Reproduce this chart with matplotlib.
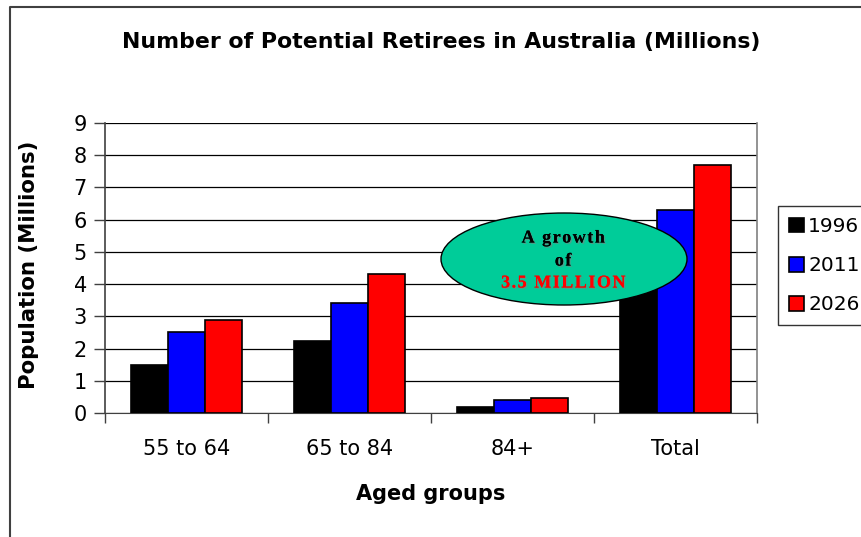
import matplotlib.pyplot as plt
import matplotlib.patheffects as pe
from matplotlib.patches import Ellipse
from matplotlib.lines import Line2D
import numpy as np

# Chart data (millions)
groups = ['55 to 64', '65 to 84', '84+', 'Total']
years = ['1996', '2011', '2026']
pop_1996 = [1.5, 2.24, 0.18, 3.92]
pop_2011 = [2.52, 3.42, 0.4, 6.3]
pop_2026 = [2.88, 4.32, 0.46, 7.7]
colors = ['#000000', '#0000ff', '#ff0000']

W, H = 861, 537
fig = plt.figure(figsize=(W / 100, H / 100), dpi=100)

# plot area in pixels: x 105..757, y 123..413
ax = fig.add_axes([105 / W, 1 - 413 / H, 652 / W, 290 / H])

x = np.arange(len(groups))
bw = 0.225
series = [pop_1996, pop_2011, pop_2026]
bars = []
for i, (vals, c) in enumerate(zip(series, colors)):
    b = ax.bar(x + (i - 1) * bw, vals, bw, color=c, edgecolor='black',
               linewidth=1.2, zorder=3, label=years[i])
    bars.append(b)

ax.set_xlim(-0.5, 3.5)
ax.set_ylim(0, 9)
ax.set_yticks(range(10))
ax.yaxis.grid(True, color='black', linewidth=0.9, zorder=0)
ax.set_axisbelow(True)

# category labels and separator ticks
ax.set_xticks(x)
ax.set_xticklabels(groups)
ax.set_xticks(np.arange(-0.5, 4, 1), minor=True)
ax.tick_params(axis='x', which='major', length=0, pad=19, labelsize=15)
ax.tick_params(axis='x', which='minor', length=7, width=1, color='#404040')
ax.tick_params(axis='y', length=8, width=1, color='#404040', pad=5, labelsize=15)

ax.spines['top'].set_visible(False)
ax.spines['left'].set_color('#404040')
ax.spines['left'].set_linewidth(1.2)
ax.spines['bottom'].set_color('#404040')
ax.spines['right'].set_color('#808080')
ax.spines['right'].set_linewidth(1.2)

ax.set_xlabel('Aged groups', fontsize=15, fontweight='bold')
ax.xaxis.set_label_coords(0.5, (413 - 484) / 290)
ax.set_ylabel('Population (Millions)', fontsize=15.3, fontweight='bold')
ax.yaxis.set_label_coords((39 - 105) / 652, 0.51)

fig.text(441 / W, 1 - 48 / H, 'Number of Potential Retirees in Australia (Millions)',
         ha='center', va='baseline', fontsize=15.8, fontweight='bold')

leg = fig.legend(handles=[b[0] for b in bars], labels=years, loc='upper left',
                 bbox_to_anchor=(778 / W, 1 - 206 / H), fontsize=14.5,
                 frameon=True, fancybox=False, edgecolor='black',
                 handlelength=0.75, handleheight=0.75, handletextpad=0.2,
                 borderpad=0.55, labelspacing=1.0, borderaxespad=0)
leg.get_frame().set_linewidth(1.0)

# callout ellipse
ell = Ellipse((564 / W, 1 - 259 / H), 246 / W, 92 / H, transform=fig.transFigure,
              facecolor='#00cc99', edgecolor='black', linewidth=1.0, zorder=5)
fig.patches.append(ell)

sp = '\u200a'
shadow = [pe.withSimplePatchShadow(offset=(1, -1), shadow_rgbFace='#808080', alpha=0.6),
          pe.Normal()]
serif = ['Liberation Serif', 'DejaVu Serif']
fig.text(563 / W, 1 - 238 / H, sp.join('A growth'), ha='center', va='center',
         fontsize=13, fontweight='bold', family=serif, color='black',
         zorder=6, path_effects=shadow)
fig.text(563 / W, 1 - 261 / H, sp.join('of'), ha='center', va='center',
         fontsize=13, fontweight='bold', family=serif, color='black',
         zorder=6, path_effects=shadow)
fig.text(563 / W, 1 - 283 / H, sp.join('3.5 MILLION'), ha='center', va='center',
         fontsize=13, fontweight='bold', family=serif, color='#ff0000',
         zorder=6, path_effects=shadow)

# outer chart border (left and top)
fig.add_artist(Line2D([10 / W, 10 / W, 1.0], [0.0, 1 - 7 / H, 1 - 7 / H],
                      transform=fig.transFigure, color='#404040', linewidth=1.5))

fig.savefig('out.png', dpi=100)
